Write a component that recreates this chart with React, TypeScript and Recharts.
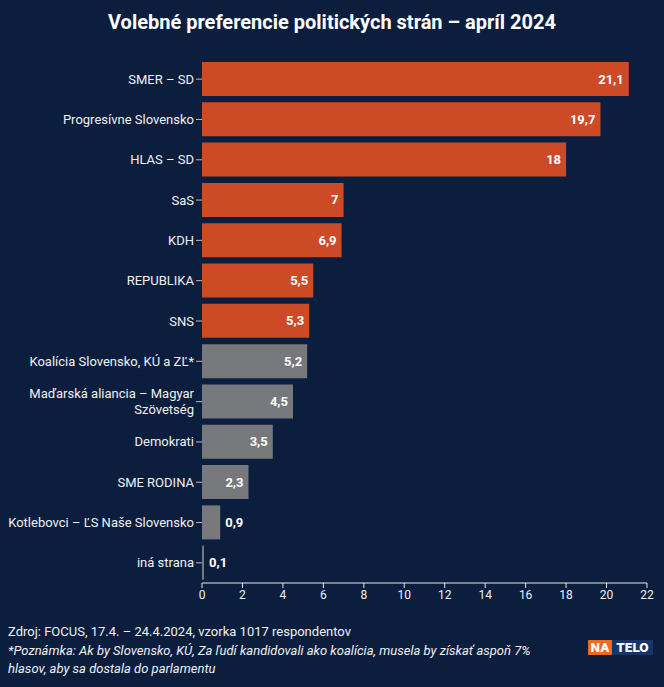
import { BarChart, Bar, XAxis, YAxis, Cell, LabelList } from 'recharts'

const parties = [
  'SMER – SD',
  'Progresívne Slovensko',
  'HLAS – SD',
  'SaS',
  'KDH',
  'REPUBLIKA',
  'SNS',
  'Koalícia Slovensko, KÚ a ZĽ*',
  'Maďarská aliancia – Magyar\nSzövetség',
  'Demokrati',
  'SME RODINA',
  'Kotlebovci – ĽS Naše Slovensko',
  'iná strana'
]
const shares = [21.1, 19.7, 18, 7, 6.9, 5.5, 5.3, 5.2, 4.5, 3.5, 2.3, 0.9, 0.1]
// first 7 parties would be in parliament
const inParliament = [true, true, true, true, true, true, true, false, false, false, false, false, false]
const xTicks = [0, 2, 4, 6, 8, 10, 12, 14, 16, 18, 20, 22]

const BG = '#0c1e3e'
const ORANGE = '#cd4a26'
const GRAY = '#76787c'
const FONT = 'Roboto, sans-serif'

const data = parties.map((name, i) => ({ name, value: shares[i], hot: inParliament[i] }))

const fmt = (v: number) => String(v).replace('.', ',')

function PartyTick(props: any) {
  const { x, y, payload } = props
  const lines = String(payload.value).split('\n')
  const start = -((lines.length - 1) * 16) / 2
  return (
    <text x={x} y={y} textAnchor="end" fill="#eef0f3" fontSize={13} fontFamily={FONT}>
      {lines.map((l, i) => (
        <tspan key={i} x={x} dy={i === 0 ? start + 4.5 : 16}>
          {l}
        </tspan>
      ))}
    </text>
  )
}

function ValueLabel(props: any) {
  const { x, y, width, height, value } = props
  const inside = value >= 2
  return (
    <text
      x={inside ? x + width - 5 : x + width + 5}
      y={y + height / 2 + 4.5}
      textAnchor={inside ? 'end' : 'start'}
      fill="#ffffff"
      fontSize={13}
      fontWeight={700}
      fontFamily={FONT}
    >
      {fmt(value)}
    </text>
  )
}

export default function App() {
  return (
    <div
      style={{
        position: 'absolute',
        left: 0,
        top: 0,
        width: 664,
        height: 687,
        background: BG,
        fontFamily: FONT,
        color: '#eef0f3',
        overflow: 'hidden'
      }}
    >
      <div
        style={{
          position: 'absolute',
          top: 10,
          left: 0,
          width: 664,
          textAlign: 'center',
          fontSize: 20,
          fontWeight: 700,
          color: '#ffffff'
        }}
      >
        Volebné preferencie politických strán – apríl 2024
      </div>
      <div style={{ position: 'absolute', left: 0, top: 0 }}>
        <BarChart
          width={664}
          height={620}
          data={data}
          layout="vertical"
          margin={{ top: 59, right: 17, bottom: 0, left: 0 }}
        >
          <XAxis
            type="number"
            domain={[0, 22]}
            ticks={xTicks}
            interval={0}
            height={37}
            axisLine={{ stroke: '#e6e8eb' }}
            tickLine={{ stroke: '#e6e8eb' }}
            tickSize={5}
            tick={{ fill: '#eef0f3', fontSize: 12, fontFamily: FONT }}
          />
          <YAxis
            type="category"
            dataKey="name"
            width={202}
            axisLine={false}
            tickLine={{ stroke: '#b8bcc4' }}
            tickSize={6}
            interval={0}
            tick={<PartyTick />}
          />
          <Bar dataKey="value" barSize={34} isAnimationActive={false}>
            {data.map((d, i) => (
              <Cell key={i} fill={d.hot ? ORANGE : GRAY} />
            ))}
            <LabelList dataKey="value" content={<ValueLabel />} />
          </Bar>
        </BarChart>
      </div>
      <div style={{ position: 'absolute', left: 8, top: 623, fontSize: 13, lineHeight: '18.5px', width: 538 }}>
        <div>Zdroj: FOCUS, 17.4. – 24.4.2024, vzorka 1017 respondentov</div>
        <div style={{ fontStyle: 'italic' }}>
          *Poznámka: Ak by Slovensko, KÚ, Za ľudí kandidovali ako koalícia, musela by získať aspoň 7% hlasov, aby sa
          dostala do parlamentu
        </div>
      </div>
      <div
        style={{
          position: 'absolute',
          left: 588,
          top: 640,
          display: 'flex',
          fontSize: 13.5,
          fontWeight: 900,
          lineHeight: '15px',
          color: '#ffffff',
          textAlign: 'center'
        }}
      >
        <span style={{ background: '#ee6a1c', width: 24 }}>NA</span>
        <span style={{ background: '#173468', width: 41 }}>TELO</span>
      </div>
    </div>
  )
}
